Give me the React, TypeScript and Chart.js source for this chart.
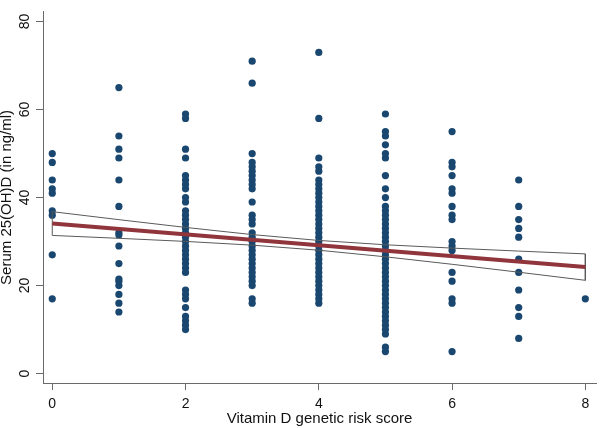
import React, { useEffect, useRef } from "react";
import { Chart, registerables } from "chart.js";

Chart.register(...registerables);

// Axis ticks
const xTicks = [0, 2, 4, 6, 8];
const yTicks = [0, 20, 40, 60, 80];

// Serum 25(OH)D values by vitamin D genetic risk score
const score0 = [50, 48, 44, 42, 41, 37, 36, 27, 17];
const score1 = [65, 54, 51, 49, 44, 38, 32, 31.5, 29, 25, 21.5, 21, 20, 18, 16, 14];
const score2 = [59, 58, 51, 49, 45, 44, 43, 42, 40, 39, 37, 36, 35, 34, 33, 32, 31, 30, 29, 28, 27, 26, 25, 24, 23, 19, 18, 17, 15, 13, 12, 11, 10];
const score3 = [71, 66, 50, 48, 47, 46, 45, 44, 43, 42, 39, 36, 35, 34, 32, 31, 30, 29, 28, 27, 26, 25, 24, 23, 22, 21, 20, 17, 16];
const score4 = [73, 58, 49, 47, 46, 44, 43, 42, 41, 40, 39, 38, 37, 36, 35, 34, 33, 32, 31, 30, 29, 28, 27, 26, 25, 24, 23, 22, 21, 20, 19, 18, 17, 16];
const score5 = [59, 55, 54, 52, 50, 49, 45, 42, 40, 38, 37, 36, 35, 34, 33, 32, 31, 30, 29, 28, 27, 26, 25, 24, 23, 22, 21, 20, 19, 18, 17, 16, 15, 14, 13, 12, 11, 10, 9, 6, 5];
const score6 = [55, 48, 47, 45, 42, 41, 38, 36, 35, 30, 29, 28, 23, 21, 17, 16, 5];
const score7 = [44, 38, 35, 33, 31, 26, 23, 19, 15, 13, 8];
const score8 = [17];
const scoreColumns = [score0, score1, score2, score3, score4, score5, score6, score7, score8];

// Linear fit and 95% CI
const fitX = [0, 8];
const fitY = [34.1, 24.2];
const ciX = [0, 1, 2, 3, 4, 5, 6, 7, 8];
const ciUpper = [36.8, 34.98, 33.22, 31.59, 30.26, 29.28, 28.52, 27.84, 27.2];
const ciLower = [31.4, 30.74, 30.04, 29.19, 28.04, 26.54, 24.84, 23.04, 21.2];

const FONT = "'Liberation Sans', Arial, Helvetica, sans-serif";
const AXIS_COLOR = "#6a6a6a";
const TEXT_COLOR = "#111";

export default function App() {
  const canvasRef = useRef<HTMLCanvasElement | null>(null);

  useEffect(() => {
    const canvas = canvasRef.current;
    if (!canvas) return;

    const scatterPts: { x: number; y: number }[] = [];
    scoreColumns.forEach((col, xi) => col.forEach((v) => scatterPts.push({ x: xi, y: v })));

    const ciPts: { x: number; y: number }[] = [];
    ciPts.push({ x: ciX[0], y: ciLower[0] });
    ciX.forEach((x, i) => ciPts.push({ x, y: ciUpper[i] }));
    for (let i = ciX.length - 1; i >= 0; i--) ciPts.push({ x: ciX[i], y: ciLower[i] });

    const fitPts = fitX.map((x, i) => ({ x, y: fitY[i] }));

    const chart = new Chart(canvas, {
      type: "scatter",
      data: {
        datasets: [
          {
            label: "Fitted values",
            data: fitPts,
            showLine: true,
            borderColor: "#90353b",
            borderWidth: 4,
            pointRadius: 0,
            order: 0,
            clip: false,
          } as any,
          {
            label: "95% CI",
            data: ciPts,
            showLine: true,
            borderColor: "#5a5a5a",
            borderWidth: 1,
            pointRadius: 0,
            order: 1,
            clip: false,
          } as any,
          {
            label: "Serum 25(OH)D",
            data: scatterPts,
            backgroundColor: "#1a476f",
            borderWidth: 0,
            pointRadius: 3.6,
            order: 2,
            clip: false,
          } as any,
        ],
      },
      options: {
        responsive: false,
        animation: false,
        layout: { padding: 0 },
        plugins: {
          legend: { display: false },
          tooltip: { enabled: false },
        },
        scales: {
          x: {
            type: "linear",
            min: -0.139,
            max: 8.16,
            afterFit: (s: any) => {
              s.height = 45;
            },
            afterBuildTicks: (s: any) => {
              s.ticks = xTicks.map((v) => ({ value: v }));
            },
            grid: {
              drawOnChartArea: false,
              drawTicks: true,
              tickLength: 7,
              color: AXIS_COLOR,
            },
            border: { display: true, color: AXIS_COLOR, width: 1 },
            ticks: {
              color: TEXT_COLOR,
              font: { family: FONT, size: 14 },
              padding: 5.5,
              maxRotation: 0,
              minRotation: 0,
            },
            title: {
              display: true,
              text: "Vitamin D genetic risk score",
              color: TEXT_COLOR,
              font: { family: FONT, size: 15 },
              padding: { top: 0, bottom: 0 },
            },
          },
          y: {
            type: "linear",
            min: -2.14,
            max: 82.2,
            afterFit: (s: any) => {
              s.width = 43;
            },
            afterBuildTicks: (s: any) => {
              s.ticks = yTicks.map((v) => ({ value: v }));
            },
            grid: {
              drawOnChartArea: false,
              drawTicks: true,
              tickLength: 7,
              color: AXIS_COLOR,
            },
            border: { display: true, color: AXIS_COLOR, width: 1 },
            ticks: {
              color: TEXT_COLOR,
              font: { family: FONT, size: 14 },
              padding: 3.5,
              minRotation: 90,
              maxRotation: 90,
              crossAlign: "center",
            },
            title: {
              display: true,
              text: "Serum 25(OH)D (in ng/ml)",
              color: TEXT_COLOR,
              font: { family: FONT, size: 15 },
              padding: { top: -2.5, bottom: 0 },
            },
          },
        },
      } as any,
    });

    return () => {
      chart.destroy();
    };
  }, []);

  return (
    <div style={{ position: "fixed", left: 0, top: 0, width: 600, height: 428, background: "#fff" }}>
      <canvas ref={canvasRef} width={600} height={428} style={{ display: "block", width: 600, height: 428 }} />
    </div>
  );
}
